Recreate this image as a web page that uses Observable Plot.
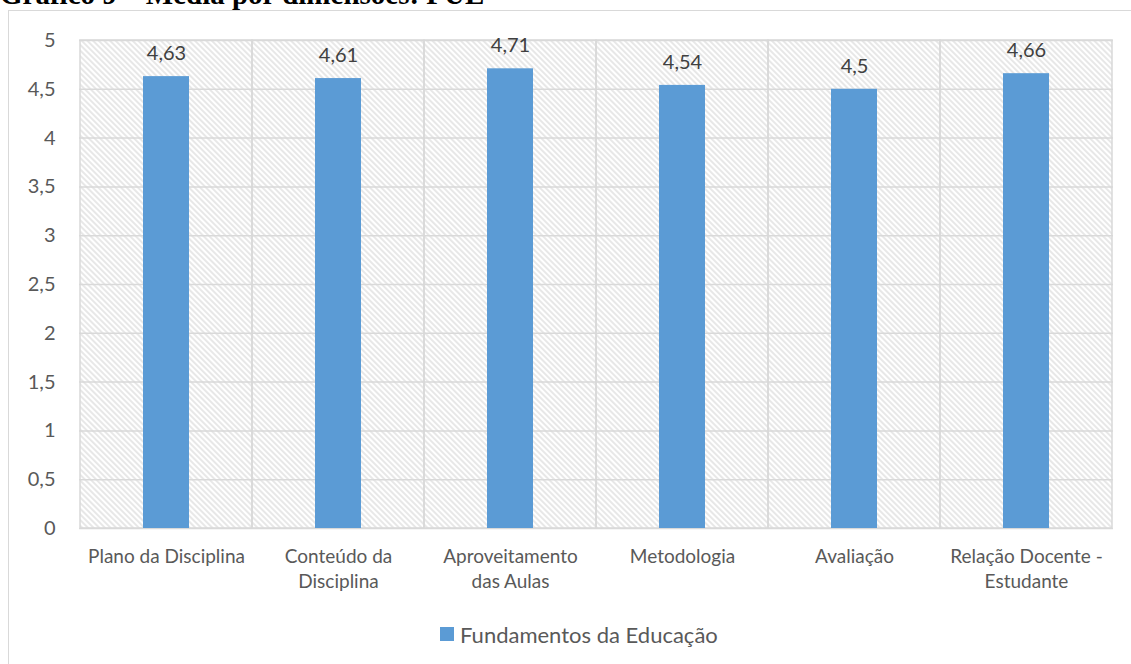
<!DOCTYPE html>
<html>
<head>
<meta charset="utf-8">
<script src="https://cdn.jsdelivr.net/npm/d3@7"></script>
<script src="https://cdn.jsdelivr.net/npm/@observablehq/plot@0.6"></script>
<style>
  body { margin: 0; background: #fff; }
  #wrap { position: relative; width: 1131px; height: 664px; overflow: hidden; font-family: Lato, sans-serif; }
  #title { position: absolute; left: 0; top: -20px; font: bold 29px/29px "Liberation Serif", serif; white-space: nowrap; color: #000; }
  #border { position: absolute; left: 8px; top: 10px; width: 1200px; height: 700px; border: 1.5px solid #d9d9d9; }
  #chart { position: absolute; left: 0; top: 0; }
  #legend { position: absolute; left: 440px; top: 621px; height: 26px; display: flex; align-items: center; font-size: 22px; color: #595959; white-space: nowrap; }
  #legend .sw { width: 14px; height: 14px; background: #5b9bd5; margin-right: 6px; }
</style>
</head>
<body>
<div id="wrap">
  <div id="title">Gráfico 9 – Média por dimensões: FUE</div>
  <div id="border"></div>
  <div id="chart"></div>
  <div id="legend"><span class="sw"></span><span id="legendText"></span></div>
</div>
<script>
const categories = ["Plano da Disciplina", "Conteúdo da Disciplina", "Aproveitamento das Aulas", "Metodologia", "Avaliação", "Relação Docente - Estudante"];
const xTickLabels = ["Plano da Disciplina", "Conteúdo da\nDisciplina", "Aproveitamento\ndas Aulas", "Metodologia", "Avaliação", "Relação Docente -\nEstudante"];
const values = [4.63, 4.61, 4.71, 4.54, 4.5, 4.66];
const yTicks = [0, 0.5, 1, 1.5, 2, 2.5, 3, 3.5, 4, 4.5, 5];
const yMax = 5;
const seriesName = "Fundamentos da Educação";

const fmt = v => String(v).replace(".", ",");
const data = categories.map((c, i) => ({category: c, value: values[i]}));

const plot = Plot.plot({
  width: 1131,
  height: 600,
  marginLeft: 79,
  marginRight: 18,
  marginTop: 40,
  marginBottom: 72,
  style: {fontFamily: "Lato, sans-serif", color: "#595959", background: "transparent", overflow: "visible"},
  x: {domain: categories, padding: 0, axis: null, label: null},
  y: {domain: [0, yMax], axis: null, label: null},
  marks: [
    Plot.barY(categories, {x: d => d, y1: 0, y2: yMax, fill: "url(#hatch)", stroke: "#d9d9d9", strokeWidth: 1.5}),
    Plot.gridY(yTicks, {stroke: "#d9d9d9", strokeOpacity: 1, strokeWidth: 1.5}),
    Plot.barY(data, {x: "category", y: "value", fill: "#5b9bd5", insetLeft: 63, insetRight: 63}),
    Plot.text(data, {x: "category", y: "value", text: d => fmt(d.value), dy: -23, fontSize: 20, fill: "#404040"}),
    Plot.axisY(yTicks, {label: null, tickSize: 0, tickPadding: 24, tickFormat: fmt, fontSize: 20, fill: "#595959"}),
    Plot.axisX({label: null, tickSize: 0, tickPadding: 17, tickFormat: d => xTickLabels[categories.indexOf(d)], fontSize: 19, lineHeight: 1.3, fill: "#595959"})
  ]
});

d3.select(plot).insert("defs", ":first-child").html(
  '<pattern id="hatch" width="4" height="4" patternUnits="userSpaceOnUse" patternTransform="rotate(-45)">' +
  '<line x1="1" y1="0" x2="1" y2="4" stroke="#d4d4d4" stroke-width="1.1"/></pattern>'
);

document.getElementById("chart").appendChild(plot);
document.getElementById("legendText").textContent = seriesName;
</script>
</body>
</html>
